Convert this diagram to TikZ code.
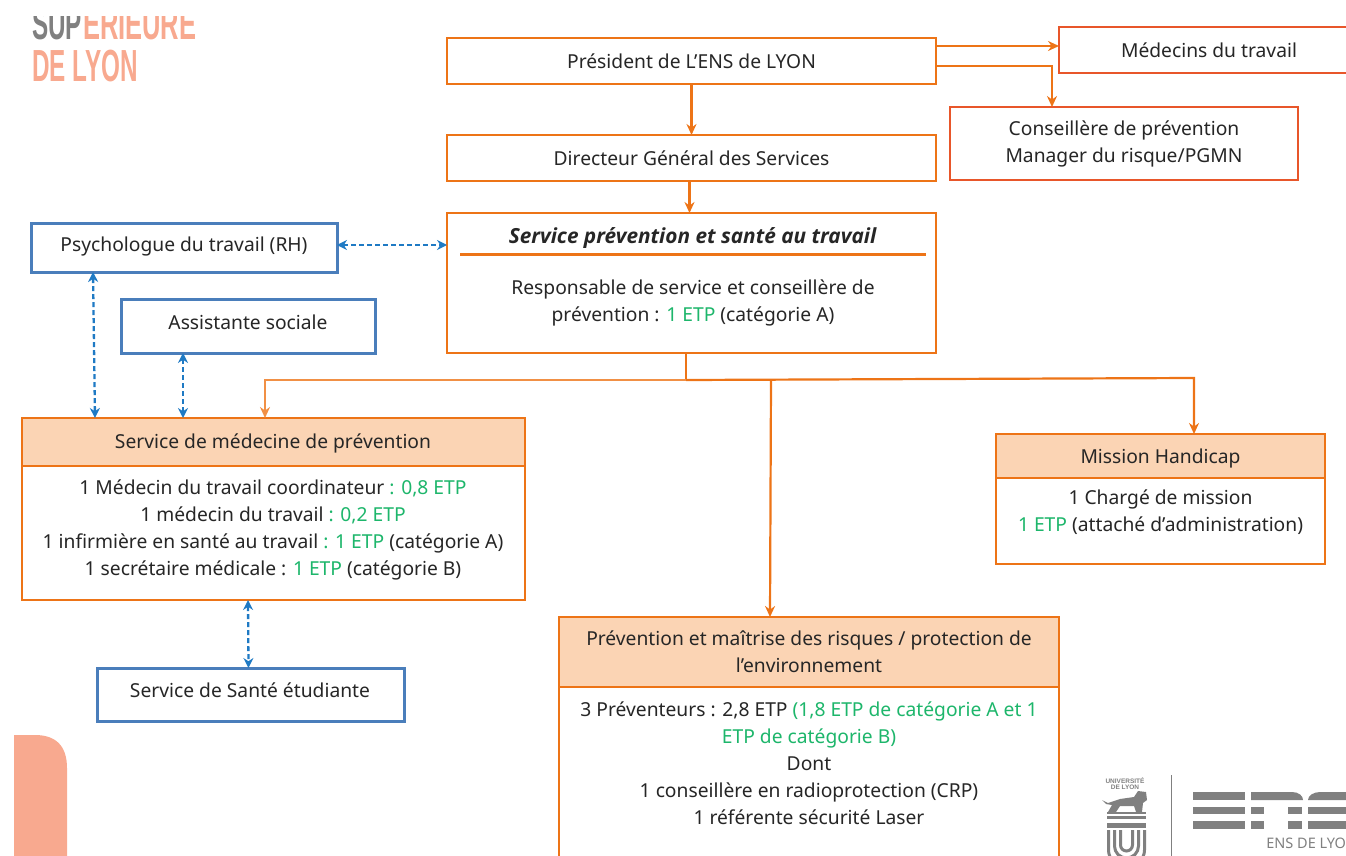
\documentclass[tikz,border=0pt]{standalone}
\usepackage{fontspec}
\setmainfont{Noto Sans}
\newfontfamily\titlefont{Open Sans}
\newfontfamily\logofont{Liberation Sans}
\usetikzlibrary{arrows.meta}
\definecolor{boxorange}{HTML}{ED7417}
\definecolor{boxred}{HTML}{E8562A}
\definecolor{boxblue}{HTML}{4A7EBB}
\definecolor{linkblue}{HTML}{1F7AC4}
\definecolor{headfill}{HTML}{FBD4B4}
\definecolor{etpgreen}{HTML}{1DB66B}
\definecolor{logosalmon}{HTML}{F8A98F}
\definecolor{logogray}{HTML}{808080}
\newcommand{\etp}[1]{\textcolor{etpgreen}{#1}}
\tikzset{
  txt/.style={font=\fontsize{19.25}{27}\selectfont,align=center,inner sep=0pt,outer sep=0pt,text=black!85},
  orangebox/.style={txt,draw=boxorange,line width=2.8pt,fill=white},
  redbox/.style={orangebox,draw=boxred},
  bluebox/.style={orangebox,draw=boxblue,line width=3pt},
  headbox/.style={orangebox,fill=headfill},
  orangelink/.style={draw=boxorange,line width=2.2pt,-{Stealth[length=11pt,width=10pt]}},
  bluelink/.style={draw=linkblue,line width=2.3pt,dash pattern=on 5pt off 3pt,{Stealth[length=10pt,width=10pt]}-{Stealth[length=10pt,width=10pt]}},
  logotxt/.style={font=\logofont\fontsize{45}{45}\bfseries\selectfont,inner sep=0pt,outer sep=0pt,anchor=west,xscale=.54}
}
\begin{document}
\begin{tikzpicture}[x=1pt,y=-1pt]
  \useasboundingbox (0,0) rectangle (1346,856);
  \clip (0,0) rectangle (1346,856);

  \begin{scope}
    \clip (0,17) rectangle (300,60);
    \node[logotxt,text=logogray] (logosup) at (32,24) {SUP};
    \node[logotxt,text=logosalmon,xscale=1.05] (logorieure) at (83,24) {ERIEURE};
  \end{scope}
  \node[logotxt,text=logosalmon] (logolyon) at (32,66) {DE LYON};
  \fill[logosalmon] (14,735) -- (35,735) .. controls (55,735) and (67,745) .. (67,768) -- (67,856) -- (14,856) -- cycle;

  \node[orangebox,minimum width=489,minimum height=46] (pres) at (691.5,61) {Président de L’ENS de LYON};
  \node[orangebox,minimum width=489,minimum height=46] (dgs) at (691.5,158) {Directeur Général des Services};
  \node[redbox,minimum width=300,minimum height=46] (med) at (1209,50) {Médecins du travail};
  \node[redbox,minimum width=348,minimum height=73] (cons) at (1124,143.5) {Conseillère de prévention\\Manager du risque/PGMN};
  \node[orangebox,minimum width=489,minimum height=140] (spst) at (691.5,283) {};
  \node[txt,font=\titlefont\fontsize{20.8}{27}\bfseries\itshape\selectfont] (spsttitle) at (692.5,238) {Service prévention et santé au travail};
  \node[txt] (spsttext) at (693,302.5) {Responsable de service et conseillère de\\prévention : \etp{1 ETP} (catégorie A)};
  \draw[boxorange,line width=3pt] (460,254) -- (926,254);

  \node[bluebox,minimum width=306,minimum height=49] (psy) at (184,247.5) {};
  \node[txt] (psytext) at (184,246) {Psychologue du travail (RH)};
  \node[bluebox,minimum width=254,minimum height=54] (ass) at (248,326) {};
  \node[txt] (asstext) at (248,322) {Assistante sociale};
  \node[bluebox,minimum width=307,minimum height=53] (sante) at (250.5,694.5) {};
  \node[txt] (santetext) at (250,690) {Service de Santé étudiante};

  \node[orangebox,minimum width=503,minimum height=135] (medbody) at (273.5,532.5) {};
  \node[txt] (medtext) at (273,530) {1 Médecin du travail coordinateur \etp{: 0,8 ETP}\\1 médecin du travail \etp{: 0,2 ETP}\\1 infirmière en santé au travail \etp{: 1 ETP} (catégorie A)\\1 secrétaire médicale : \etp{1 ETP} (catégorie B)};
  \node[headbox,minimum width=503,minimum height=48] (medhead) at (273.5,442) {};
  \node[txt] (medheadtext) at (273,443) {Service de médecine de prévention};

  \node[orangebox,minimum width=329,minimum height=87] (hanbody) at (1160.5,520.5) {};
  \node[txt] (hantext) at (1160.5,512) {1 Chargé de mission\\\etp{1 ETP} (attaché d’administration)};
  \node[headbox,minimum width=329,minimum height=44] (hanhead) at (1160.5,456) {};
  \node[txt] (hanheadtext) at (1160.5,458) {Mission Handicap};

  \node[orangebox,minimum width=500,minimum height=200] (riskbody) at (809,786) {};
  \node[txt] (risktext) at (809,763.5) {3 Préventeurs : 2,8 ETP \etp{(1,8 ETP de catégorie A et 1}\\\etp{ETP de catégorie B)}\\Dont\\1 conseillère en radioprotection (CRP)\\1 référente sécurité Laser};
  \node[headbox,minimum width=500,minimum height=70] (riskhead) at (809,652) {Prévention et maîtrise des risques / protection de\\l’environnement};

  \coordinate (bus) at (686,380);
  \begin{scope}
    \draw[orangelink] (pres.south) -- (dgs.north);
    \draw[orangelink] ([xshift=-2]dgs.south) -- ([xshift=-2]spst.north);
    \draw[orangelink] ([yshift=15]pres.east) -- ([yshift=4]med.west);
    \draw[orangelink] ([yshift=-5]pres.east) -- (1052,66) -- ([xshift=-72]cons.north);
    \draw[boxorange,line width=2.2pt] ([xshift=-5.5]spst.south) -- (bus);
    \draw[orangelink,draw=boxorange!80] (bus) -- (265,380) -- ([xshift=-8.5]medhead.north);
    \draw[orangelink] (bus) -- (1194,378) -- ([xshift=33.5]hanhead.north);
    \draw[orangelink] (771,380) -- ([xshift=-39]riskhead.north);
  \end{scope}
  \begin{scope}
    \draw[bluelink] ([yshift=2.5]psy.east) -- ([yshift=38]spst.west);
    \draw[bluelink] ([xshift=-91]psy.south) -- ([xshift=-178.5]medhead.north);
    \draw[bluelink] ([xshift=-65]ass.south) -- ([xshift=-90.5]medhead.north);
    \draw[bluelink] ([xshift=-25.5]medbody.south) -- ([xshift=-2]sante.north);
  \end{scope}

  \begin{scope}[logogray]
    \node[txt,font=\logofont\fontsize{6.5}{6.5}\bfseries\selectfont,text=logogray] (univ) at (1125,783.5) {UNIVERSITÉ\\DE LYON};
    \fill (1102,800) -- (1108,803) -- (1120,799) -- (1134,797) -- (1138,791) -- (1146,792) -- (1147,800) -- (1143,803) -- (1142,812) -- (1136,812) -- (1134,806) -- (1120,806) -- (1116,812) -- (1108,812) -- (1112,805) -- (1106,804) -- cycle;
    \fill (1107,812) rectangle (1146,814);
    \fill (1107,816) rectangle (1146,819);
    \fill (1107,823) rectangle (1146,828);
    \draw[line width=3pt,rounded corners=16pt] (1108.5,830) -- (1108.5,866) -- (1144.5,866) -- (1144.5,830);
    \draw[line width=3pt,rounded corners=12pt] (1114.5,830) -- (1114.5,858) -- (1138.5,858) -- (1138.5,830);
    \draw[line width=3pt,rounded corners=6pt] (1120.5,830) -- (1120.5,851) -- (1132.5,851) -- (1132.5,830);
    \draw[line width=1pt] (1171,775) -- (1171,856);
    \foreach \ya/\yb in {792/800,807/814,821/829} {
      \fill (1193,\ya) rectangle (1245,\yb);
    }
    \fill (1251,800) -- (1251,792) -- (1292,792) .. controls (1299,792) and (1303,796) .. (1303,800) -- cycle;
    \foreach \ya/\yb in {807/814,821/829} {
      \fill (1251,\ya) rectangle (1264,\yb);
      \fill (1288,\ya) rectangle (1302,\yb);
      \fill (1308,\ya) rectangle (1346,\yb);
    }
    \fill (1346,800) -- (1346,792) -- (1320,792) .. controls (1313,792) and (1308,796) .. (1308,800) -- cycle;
    \node[txt,font=\fontsize{14.5}{15}\selectfont,text=logogray,anchor=east] (enstxt) at (1346,843) {ENS DE LYO};
  \end{scope}
\end{tikzpicture}
\end{document}
